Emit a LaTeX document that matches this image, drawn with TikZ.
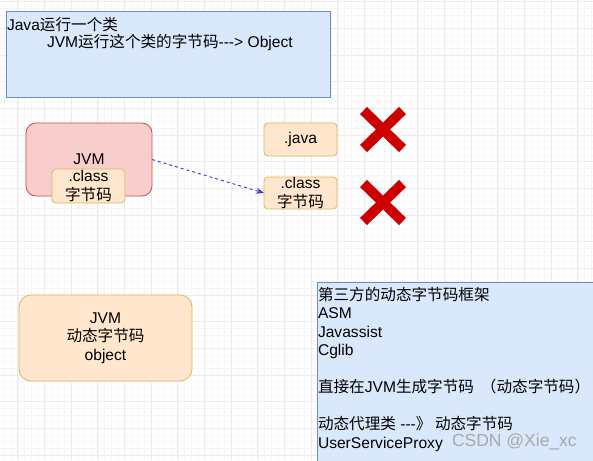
\documentclass[tikz,border=0pt]{standalone}
\usepackage{fontspec}
\setmainfont{Liberation Sans}[Ligatures=NoCommon]
\newfontfamily\cjk{Noto Sans CJK SC}
\newcommand{\zh}[1]{{\cjk #1}}
\newcommand{\hy}{\mbox{-}}
\usetikzlibrary{arrows.meta,calc}
\definecolor{bluefill}{HTML}{DAE8FC}
\definecolor{blueline}{HTML}{6C8EBF}
\definecolor{pinkfill}{HTML}{F8CECC}
\definecolor{pinkline}{HTML}{B85450}
\definecolor{orfill}{HTML}{FFE6CC}
\definecolor{orline}{HTML}{DDB55E}
\definecolor{xred}{HTML}{CC0000}
\definecolor{arrowblue}{HTML}{3535D8}
\definecolor{gridminor}{HTML}{F6F6F6}
\definecolor{gridmajor}{HTML}{EBEBEB}
\definecolor{wmark}{HTML}{A8A8A8}
\begin{document}
\begin{tikzpicture}[x=1pt,y=-1pt,
  every node/.style={font=\fontsize{15.6}{18.5}\selectfont, inner sep=0pt, outer sep=0pt},
  bluebox/.style={draw=blueline, fill=bluefill, line width=0.8pt},
  pinkbox/.style={draw=pinkline, fill=pinkfill, line width=0.8pt, rounded corners=10pt},
  orbox/.style={draw=orline, fill=orfill, line width=0.8pt, align=center},
  cross/.style={draw=xred, line width=10pt, line cap=butt},
  dasharrow/.style={draw=arrowblue, line width=0.9pt, dash pattern=on 3pt off 3pt, -{Stealth[length=8pt,width=6pt]}},
  txt/.style={anchor=west}
]
\useasboundingbox (0,0) rectangle (593,460);
\fill[white] (0,0) rectangle (593,460);
% grid
\foreach \i in {0,...,90} {\draw[gridminor, line width=0.5pt] ({-8.9+\i*6.667},0) -- ({-8.9+\i*6.667},460);}
\foreach \i in {0,...,69} {\draw[gridminor, line width=0.5pt] (0,{1.7+\i*6.667}) -- (593,{1.7+\i*6.667});}
\foreach \i in {0,...,23} {\draw[gridmajor, line width=0.6pt] ({17.6+\i*26.667},0) -- ({17.6+\i*26.667},460);}
\foreach \i in {0,...,17} {\draw[gridmajor, line width=0.6pt] (0,{1.7+\i*26.667}) -- (593,{1.7+\i*26.667});}

% top box
\node[bluebox, minimum width=324pt, minimum height=86pt] (topbox) at (168,54) {};
\node[txt] (t1) at (7,25) {Java\zh{运行一个类}};
\node[txt] (t2) at (47,43) {JVM\zh{运行这个类的字节码}\hy\hy\hy> Object};

% JVM with class
\node[pinkbox, minimum width=126pt, minimum height=73pt] (jvm) at (89,159.5) {JVM};
\node[orbox, rounded corners=4pt, minimum width=73pt, minimum height=34pt] (cls1) at (88.5,186) {.class\\\zh{字节码}};

% right small boxes
\node[orbox, rounded corners=4pt, minimum width=73pt, minimum height=33pt] (java) at (300.5,139.5) {.java};
\node[orbox, rounded corners=4pt, minimum width=73pt, minimum height=32pt] (cls2) at (300.5,193) {.class\\\zh{字节码}};

\draw[dasharrow] (jvm.east) -- (cls2.west);

% crosses
\coordinate (xa1) at (360,107); \coordinate (xa2) at (406,152);
\coordinate (xb1) at (360,180); \coordinate (xb2) at (406,225);
\draw[cross] ($(xa1)+(3.5,3.5)$) -- ($(xa2)+(-3.5,-3.5)$);
\draw[cross] ($(xa2|-xa1)+(-3.5,3.5)$) -- ($(xa1|-xa2)+(3.5,-3.5)$);
\draw[cross] ($(xb1)+(3.5,3.5)$) -- ($(xb2)+(-3.5,-3.5)$);
\draw[cross] ($(xb2|-xb1)+(-3.5,3.5)$) -- ($(xb1|-xb2)+(3.5,-3.5)$);

% bottom JVM
\node[orbox, rounded corners=12pt, minimum width=173pt, minimum height=86pt] (djvm) at (105.5,338) {JVM\\\zh{动态字节码}\\object};

% right big box
\node[bluebox, anchor=north west, minimum width=290pt, minimum height=190pt] (rbox) at (317,282) {};
\node[anchor=north west, align=left] (rtext) at (318,287) {\zh{第三方的动态字节码框架}\\ASM\\Javassist\\Cglib\\[18.5pt]\zh{直接在}JVM\zh{生成字节码\ \ （动态字节码）}\\[18.5pt]\zh{动态代理类} \hy\hy\hy\zh{》 动态字节码}\\UserServiceProxy};

\node[anchor=west, text=wmark, font=\fontsize{17.5}{20}\selectfont] (wm) at (452,442) {CSDN @Xie\_xc};
\end{tikzpicture}
\end{document}
